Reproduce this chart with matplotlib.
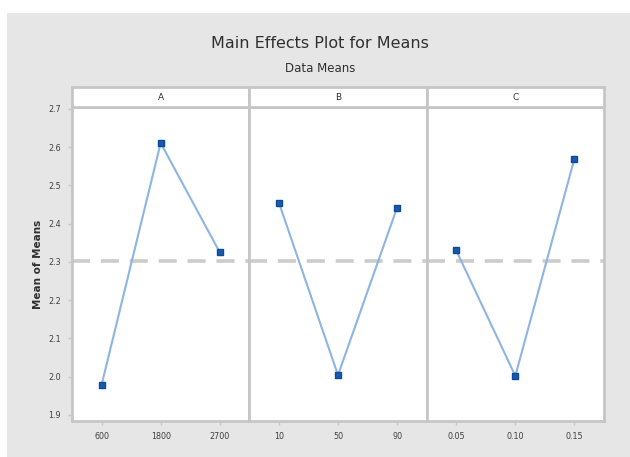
import matplotlib
matplotlib.use("Agg")
import matplotlib.pyplot as plt
from matplotlib.patches import Rectangle
import numpy as np

# Factor levels and mean responses
factors = ["A", "B", "C"]
A_levels = ["600", "1800", "2700"]
A_means = [1.978, 2.611, 2.325]
B_levels = ["10", "50", "90"]
B_means = [2.455, 2.004, 2.442]
C_levels = ["0.05", "0.10", "0.15"]
C_means = [2.330, 2.002, 2.570]
y_ticks = [1.9, 2.0, 2.1, 2.2, 2.3, 2.4, 2.5, 2.6, 2.7]

levels = [A_levels, B_levels, C_levels]
means = [A_means, B_means, C_means]
grand_mean = np.mean(np.concatenate([A_means, B_means, C_means]))

W, H = 630, 457
fig = plt.figure(figsize=(W / 100, H / 100), dpi=100)
fig.patch.set_facecolor("white")

bg = "#e6e6e6"
frame = "#c6c6c6"
txt = "#404040"

# gray backdrop panel
fig.add_artist(Rectangle((7 / W, 0), 1 - 7 / W, (H - 13) / H,
                         transform=fig.transFigure, facecolor=bg,
                         edgecolor="none", zorder=0))

fig.text(320 / W, 1 - 44 / H, "Main Effects Plot for Means", ha="center",
         va="center", fontsize=11.5, color="#303030")
fig.text(320 / W, 1 - 68 / H, "Data Means", ha="center", va="center",
         fontsize=8.5, color="#303030")

left, right = 72, 604
top, bottom = 107, 421
strip_top = 87
pw = (right - left) / 3
ylo, yhi = 1.884, 2.705

for i, (name, lv, mv) in enumerate(zip(factors, levels, means)):
    x0 = left + i * pw
    ax = fig.add_axes([x0 / W, (H - bottom) / H, pw / W, (bottom - top) / H])
    ax.set_facecolor("white")
    x = np.arange(1, len(lv) + 1)
    ax.axhline(grand_mean, color="#cccccc", lw=2.6, ls=(0, (5, 3)), zorder=1)
    ax.plot(x, mv, color="#8db4e2", lw=1.5, zorder=2)
    ax.plot(x, mv, ls="none", marker="s", ms=4.5, color="#1a5aa8",
            mec="#0c4a9a", zorder=3)
    ax.set_xlim(0.5, 3.5)
    ax.set_ylim(ylo, yhi)
    ax.set_xticks(x)
    ax.set_xticklabels(lv)
    ax.set_yticks(y_ticks)
    if i == 0:
        ax.set_yticklabels([f"{v:.1f}" for v in y_ticks])
        ax.set_ylabel("Mean of Means", fontsize=7.5, color="#303030",
                      labelpad=4, fontweight="bold")
    else:
        ax.tick_params(axis="y", left=False, labelleft=False)
    ax.tick_params(axis="both", labelsize=5.8, colors=frame, labelcolor=txt,
                   length=3, width=1, direction="out", pad=5)
    for s in ax.spines.values():
        s.set_color(frame)
        s.set_linewidth(2)

    # strip header
    sax = fig.add_axes([x0 / W, (H - top) / H, pw / W, (top - strip_top) / H])
    sax.set_facecolor("white")
    sax.set_xticks([])
    sax.set_yticks([])
    for s in sax.spines.values():
        s.set_color(frame)
        s.set_linewidth(2)
    sax.text(0.5, 0.5, name, ha="center", va="center", fontsize=6.5,
             color="#303030", transform=sax.transAxes)

fig.savefig("out.png", dpi=100, facecolor=fig.get_facecolor())
